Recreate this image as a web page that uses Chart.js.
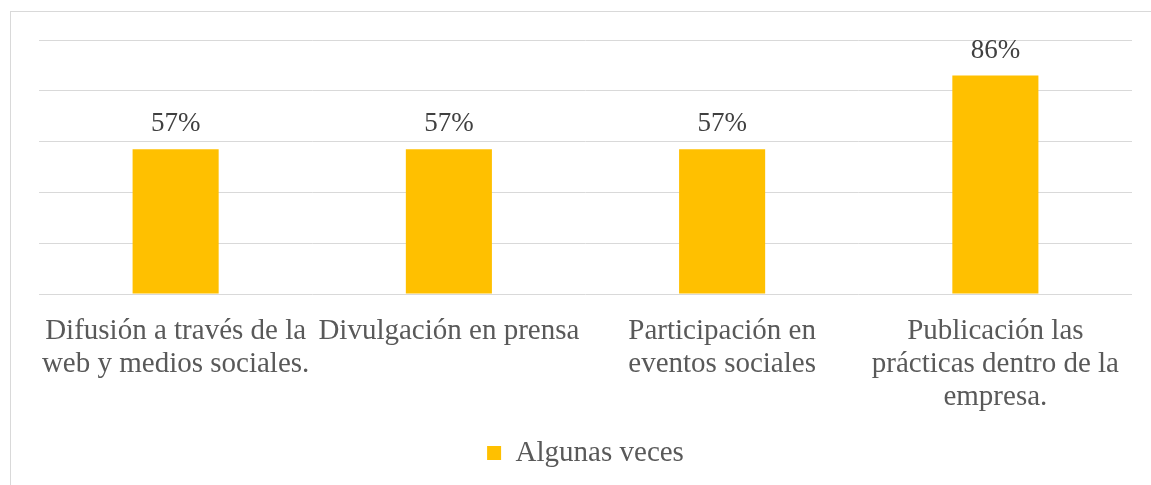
<!DOCTYPE html>
<html>
<head>
<meta charset="utf-8">
<script src="https://cdn.jsdelivr.net/npm/chart.js@4"></script>
<style>
  html, body { margin: 0; padding: 0; background: #ffffff; }
  #wrap { position: relative; width: 1151px; height: 485px; }
</style>
</head>
<body>
<div id="wrap"><canvas id="chart" width="1151" height="485"></canvas></div>
<script>
// Categories (multi-line labels) and values, in percent
const categories = [
  ["Difusión a través de la", "web y medios sociales."],
  ["Divulgación en prensa"],
  ["Participación en", "eventos sociales"],
  ["Publicación las", "prácticas dentro de la", "empresa."]
];
const seriesName = "Algunas veces";
const values = [57, 57, 57, 86];
const yTicks = [0, 20, 40, 60, 80, 100];

const FONT = "'Liberation Serif', 'Times New Roman', serif";

// Light frame around the chart
const framePlugin = {
  id: 'frame',
  beforeDraw(chart) {
    const ctx = chart.ctx;
    ctx.save();
    ctx.fillStyle = '#ffffff';
    ctx.fillRect(0, 0, chart.width, chart.height);
    ctx.strokeStyle = '#d9d9d9';
    ctx.lineWidth = 1;
    ctx.strokeRect(10.5, 11.5, 1400, 600);
    ctx.restore();
  }
};

// Value labels above each bar
const valueLabels = {
  id: 'valueLabels',
  afterDatasetsDraw(chart) {
    const ctx = chart.ctx;
    const meta = chart.getDatasetMeta(0);
    ctx.save();
    ctx.font = '27px ' + FONT;
    ctx.fillStyle = '#404040';
    ctx.textAlign = 'center';
    ctx.textBaseline = 'alphabetic';
    meta.data.forEach((bar, i) => {
      ctx.fillText(values[i] + '%', bar.x, bar.y - 18);
    });
    ctx.restore();
  }
};

new Chart(document.getElementById('chart'), {
  type: 'bar',
  data: {
    labels: categories,
    datasets: [{
      label: seriesName,
      data: values,
      backgroundColor: '#ffc000',
      borderWidth: 0,
      categoryPercentage: 1,
      barPercentage: 0.315
    }]
  },
  options: {
    responsive: false,
    animation: false,
    devicePixelRatio: 1,
    layout: { padding: { top: 40, left: 39, right: 19, bottom: 7.5 } },
    scales: {
      x: {
        grid: { display: false, drawTicks: false },
        border: { display: false },
        ticks: {
          autoSkip: false,
          maxRotation: 0,
          minRotation: 0,
          padding: 21,
          color: '#595959',
          font: { family: FONT, size: 29, lineHeight: 1.14 }
        },
        afterFit(scale) { scale.height = 134.5; }
      },
      y: {
        min: 0,
        max: 100,
        afterBuildTicks(scale) { scale.ticks = yTicks.map(v => ({ value: v })); },
        grid: { color: '#d9d9d9', lineWidth: 1, drawTicks: false },
        border: { display: false },
        ticks: { display: false },
        afterFit(scale) { scale.width = 0; }
      }
    },
    plugins: {
      legend: {
        position: 'bottom',
        labels: {
          boxWidth: 14,
          boxHeight: 14,
          padding: 10,
          color: '#595959',
          font: { family: FONT, size: 29 }
        }
      },
      tooltip: { enabled: false }
    }
  },
  plugins: [framePlugin, valueLabels]
});
</script>
</body>
</html>
